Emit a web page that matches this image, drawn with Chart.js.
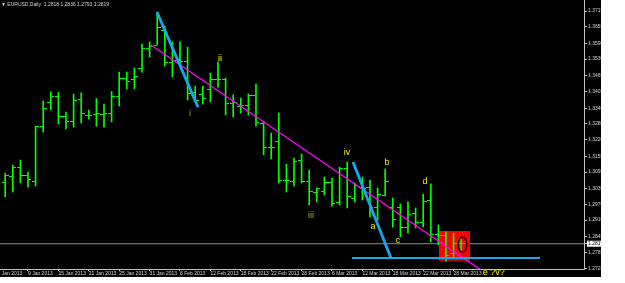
<!DOCTYPE html>
<html>
<head>
<meta charset="utf-8">
<script src="https://cdn.jsdelivr.net/npm/chart.js@4.4.1/dist/chart.umd.min.js"></script>
<style>
    html, body { margin: 0; padding: 0; background: #fff; }
    #wrap { position: relative; width: 601px; height: 277px; }
</style>
</head>
<body>
<div id="wrap"><canvas id="chart" width="601" height="277"></canvas></div>
<script>
// ============================================================
// EURUSD Daily — MT4 style OHLC bars with wave markup
// ============================================================

const headerText = '\u25BC EURUSD,Daily  1.2818 1.2836 1.2793 1.2819';

// bar index 0 = 3 Jan 2013, 61 = 29 Mar 2013
const opens = [
    1.3188, 1.3053, 1.3076, 1.3114, 1.3080, 1.3060, 1.3272, 1.3361, 1.3385, 1.3307,
    1.3291, 1.3375, 1.3311, 1.3315, 1.3318, 1.3322, 1.3385, 1.3455, 1.3453, 1.3492,
    1.3569, 1.3584, 1.3640, 1.3515, 1.3530, 1.3520, 1.3400, 1.3395, 1.3411, 1.3453,
    1.3450, 1.3360, 1.3349, 1.3353, 1.3388, 1.3280, 1.3188, 1.3211, 1.3064, 1.3060,
    1.3140, 1.3057, 1.3018, 1.3020, 1.3053, 1.2976, 1.3107, 1.2995, 1.3037, 1.3037,
    1.2957, 1.3003, 1.2957, 1.2960, 1.2883, 1.2934, 1.2899, 1.2985, 1.2855, 1.2850,
    1.2780, 1.2818,
];
const highs = [
    1.3195, 1.3091, 1.3122, 1.3141, 1.3095, 1.3272, 1.3369, 1.3404, 1.3402, 1.3326,
    1.3395, 1.3400, 1.3334, 1.3378, 1.3357, 1.3405, 1.3480, 1.3480, 1.3496, 1.3588,
    1.3596, 1.3711, 1.3657, 1.3596, 1.3596, 1.3576, 1.3426, 1.3426, 1.3476, 1.3519,
    1.3457, 1.3392, 1.3380, 1.3396, 1.3434, 1.3288, 1.3245, 1.3322, 1.3126, 1.3149,
    1.3164, 1.3103, 1.3034, 1.3076, 1.3072, 1.3114, 1.3134, 1.3053, 1.3076, 1.3064,
    1.3034, 1.3107, 1.2995, 1.2972, 1.2980, 1.2957, 1.3010, 1.3049, 1.2891, 1.2865,
    1.2860, 1.2836,
];
const lows = [
    1.3018, 1.2999, 1.3018, 1.3053, 1.3037, 1.3041, 1.3249, 1.3334, 1.3280, 1.3261,
    1.3268, 1.3284, 1.3299, 1.3272, 1.3268, 1.3288, 1.3349, 1.3415, 1.3415, 1.3480,
    1.3538, 1.3584, 1.3503, 1.3461, 1.3507, 1.3372, 1.3365, 1.3357, 1.3365, 1.3422,
    1.3315, 1.3307, 1.3322, 1.3315, 1.3272, 1.3161, 1.3145, 1.3053, 1.3018, 1.3041,
    1.3053, 1.2968, 1.2980, 1.3007, 1.2964, 1.2968, 1.2957, 1.2980, 1.2988, 1.2922,
    1.2910, 1.3003, 1.2883, 1.2845, 1.2860, 1.2880, 1.2883, 1.2826, 1.2815, 1.2751,
    1.2765, 1.2793,
];
const closes = [
    1.3053, 1.3080, 1.3114, 1.3083, 1.3068, 1.3272, 1.3338, 1.3385, 1.3307, 1.3291,
    1.3372, 1.3322, 1.3311, 1.3322, 1.3322, 1.3385, 1.3455, 1.3445, 1.3462, 1.3569,
    1.3580, 1.3653, 1.3515, 1.3525, 1.3522, 1.3399, 1.3370, 1.3380, 1.3453, 1.3453,
    1.3360, 1.3362, 1.3351, 1.3388, 1.3284, 1.3191, 1.3190, 1.3064, 1.3062, 1.3135,
    1.3057, 1.3022, 1.3030, 1.3053, 1.2972, 1.3107, 1.2999, 1.3045, 1.3030, 1.2960,
    1.3007, 1.3057, 1.2914, 1.2883, 1.2930, 1.2899, 1.2980, 1.2853, 1.2850, 1.2775,
    1.2818, 1.2819,
];

// date axis: bar index -> label
const dateTickIdx = [0, 4, 8, 12, 16, 20, 24, 28, 32, 36, 40, 44, 48, 52, 56, 60];
const dateTickLabels = [
    '3 Jan 2013', '9 Jan 2013', '15 Jan 2013', '21 Jan 2013', '25 Jan 2013', '31 Jan 2013',
    '6 Feb 2013', '12 Feb 2013', '18 Feb 2013', '22 Feb 2013', '28 Feb 2013',
    '6 Mar 2013', '12 Mar 2013', '18 Mar 2013', '22 Mar 2013', '28 Mar 2013',
];

const priceTicks = [
    1.3715, 1.3655, 1.3590, 1.3530, 1.3465, 1.3405, 1.3340, 1.3280, 1.3220,
    1.3155, 1.3095, 1.3030, 1.2970, 1.2910, 1.2845, 1.2785, 1.2725,
];

// drawn objects, in (bar index, price)
const magentaTrend = [[20.18, 1.3584], [64.5, 1.2700]];
const cyanDrop1 = [[20.97, 1.3711], [26.37, 1.3345]];
const cyanDrop2 = [[46.76, 1.3134], [51.76, 1.2764]];
const cyanFloor = [[46.63, 1.2764], [71.37, 1.2764]];
const redBoxX = [58.08, 62.16];
const redBoxTop = 1.2868;
const redBoxBottom = 1.2753;
const ellipseAt = [61.17, 1.2816];

const waveLabels = ['i', 'ii', 'iii', 'iv', 'a', 'b', 'c', 'd', 'e ?v?'];
const waveIdx = [25.32, 29.26, 41.24, 45.97, 49.4, 51.24, 52.68, 56.24, 65.3];
const wavePrice = [1.3322, 1.3534, 1.2926, 1.3172, 1.2887, 1.3130, 1.2833, 1.3060, 1.2710];

// ── Styles ──
const BAR_COLOR = '#00ff00';
const CYAN = '#14a9ee';
const MAGENTA = '#ff00ff';
const AXIS_COLOR = '#c0c0c0';
const TEXT_COLOR = '#d0d0d0';
const lastClose = closes[closes.length - 1];

function tickImage(side) {
    const c = document.createElement('canvas');
    c.width = 7;
    c.height = 1;
    const g = c.getContext('2d');
    g.fillStyle = BAR_COLOR;
    g.fillRect(side === 'open' ? 0 : 4, 0, 3, 1);
    return c;
}

function ellipseImage() {
    const c = document.createElement('canvas');
    c.width = 11;
    c.height = 17;
    const g = c.getContext('2d');
    g.strokeStyle = '#000';
    g.lineWidth = 1.3;
    g.beginPath();
    g.ellipse(5.5, 8.5, 4.3, 7.5, 0, 0, Math.PI * 2);
    g.stroke();
    return c;
}

const toPts = arr => arr.map(([x, y]) => ({ x, y }));
const lineDs = (pts, color, width, order) => ({
    type: 'line',
    data: toPts(pts),
    borderColor: color,
    borderWidth: width,
    pointRadius: 0,
    pointHoverRadius: 0,
    fill: false,
    order,
});

const barData = lows.map((l, i) => ({ x: i, y: [l, highs[i]] }));
const openData = opens.map((o, i) => ({ x: i, y: o }));
const closeData = closes.map((c, i) => ({ x: i, y: c }));

const backgroundPlugin = {
    id: 'bg',
    beforeDraw(chart) {
        const { ctx, width, height } = chart;
        ctx.save();
        ctx.fillStyle = '#000';
        ctx.fillRect(0, 0, width, height);
        ctx.restore();
    },
};

const textPlugin = {
    id: 'texts',
    afterDatasetsDraw(chart) {
        const { ctx, scales: { x, y } } = chart;
        ctx.save();
        ctx.textBaseline = 'middle';
        ctx.textAlign = 'center';
        ctx.font = '9px "Liberation Sans", Arial, sans-serif';
        waveLabels.forEach((t, i) => {
            const dim = t === 'i' || t === 'iii';
            ctx.fillStyle = dim ? '#b4a81c' : '#f0f000';
            ctx.fillText(t, x.getPixelForValue(waveIdx[i]), y.getPixelForValue(wavePrice[i]));
        });
        ctx.textAlign = 'left';
        ctx.font = '5px "Liberation Sans", Arial, sans-serif';
        ctx.fillStyle = TEXT_COLOR;
        ctx.fillText(headerText, 1, 5);
        ctx.restore();
    },
};

new Chart(document.getElementById('chart'), {
    type: 'scatter',
    data: {
        datasets: [
            // current price line
            lineDs([[0.316, lastClose], [77.16, lastClose]], '#8c8c8c', 1, 20),
            // red box (top filled down to bottom)
            {
                type: 'line',
                data: redBoxX.map(x => ({ x, y: redBoxTop })),
                borderWidth: 0,
                pointRadius: 0,
                pointHoverRadius: 0,
                backgroundColor: '#ff0000',
                fill: '+1',
                order: 15,
            },
            {
                type: 'line',
                data: redBoxX.map(x => ({ x, y: redBoxBottom })),
                borderWidth: 0,
                pointRadius: 0,
                pointHoverRadius: 0,
                fill: false,
                order: 15,
            },
            // high-low lines
            {
                type: 'bar',
                data: barData,
                backgroundColor: BAR_COLOR,
                barThickness: 1,
                grouped: false,
                order: 10,
            },
            {
                data: openData,
                pointStyle: tickImage('open'),
                pointRadius: 1,
                pointHoverRadius: 1,
                order: 9,
            },
            {
                data: closeData,
                pointStyle: tickImage('close'),
                pointRadius: 1,
                pointHoverRadius: 1,
                order: 9,
            },
            lineDs(magentaTrend, MAGENTA, 1.3, 5),
            lineDs(cyanDrop1, CYAN, 2.8, 4),
            lineDs(cyanDrop2, CYAN, 2.8, 4),
            lineDs(cyanFloor, CYAN, 2.2, 4),
            {
                data: [{ x: ellipseAt[0], y: ellipseAt[1] }],
                pointStyle: ellipseImage(),
                pointRadius: 1,
                pointHoverRadius: 1,
                order: 1,
            },
        ],
    },
    options: {
        responsive: false,
        animation: false,
        layout: { padding: 0, autoPadding: false },
        plugins: {
            legend: { display: false },
            tooltip: { enabled: false },
        },
        scales: {
            x: {
                type: 'linear',
                min: 0.316,
                max: 77.16,
                offset: false,
                afterBuildTicks: s => { s.ticks = dateTickIdx.map(v => ({ value: v })); },
                afterFit: s => {
                    s.height = 8;
                    s.paddingLeft = 0;
                    s.paddingRight = 0;
                },
                grid: { display: true, drawOnChartArea: false, offset: false, tickLength: 2, color: AXIS_COLOR },
                border: { color: AXIS_COLOR },
                ticks: {
                    align: 'start',
                    autoSkip: false,
                    maxRotation: 0,
                    padding: 0,
                    color: TEXT_COLOR,
                    font: { size: 5, family: '"Liberation Sans", Arial, sans-serif' },
                    callback: v => dateTickLabels[dateTickIdx.indexOf(v)] ?? '',
                },
            },
            y: {
                type: 'linear',
                position: 'right',
                min: 1.27217,
                max: 1.37574,
                beginAtZero: false,
                afterBuildTicks: s => { s.ticks = [...priceTicks, lastClose].map(v => ({ value: v })); },
                afterFit: s => {
                    s.width = 17;
                    s.paddingTop = 0;
                    s.paddingBottom = 0;
                },
                grid: { display: true, drawOnChartArea: false, tickLength: 3, color: AXIS_COLOR },
                border: { color: AXIS_COLOR },
                ticks: {
                    autoSkip: false,
                    padding: 1,
                    font: { size: 5, family: '"Liberation Sans", Arial, sans-serif' },
                    color: c => (c.tick && c.tick.value === lastClose ? '#000' : TEXT_COLOR),
                    showLabelBackdrop: c => !!(c.tick && c.tick.value === lastClose),
                    backdropColor: '#ffffff',
                    backdropPadding: { x: 1, y: 0 },
                    callback: v => Number(v).toFixed(4),
                },
            },
        },
    },
    plugins: [backgroundPlugin, textPlugin],
});
</script>
</body>
</html>
